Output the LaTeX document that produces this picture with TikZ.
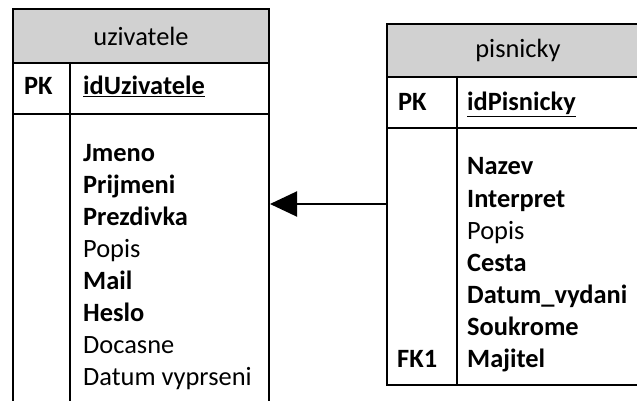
\documentclass[tikz,border=0pt]{standalone}
\usepackage{fontspec}
\setmainfont{Carlito}
\usetikzlibrary{arrows.meta}

\tikzset{
    tablebox/.style={draw=black, line width=2pt, anchor=north west, inner sep=0pt},
    headbox/.style={tablebox, fill=black!18, font=\fontsize{26.4}{32}\selectfont},
    tableline/.style={line width=2pt, black},
    fieldtext/.style={anchor=base west, inner sep=0pt, font=\fontsize{26.4}{32}\selectfont},
    keytext/.style={anchor=base west, inner sep=0pt, font=\fontsize{26.4}{32}\selectfont\bfseries},
}

\begin{document}
\begin{tikzpicture}[x=1pt, y=-1pt]

    % Page of 637 x 401, everything outside is cut away
    \useasboundingbox (0,0) rectangle (637,401);
    \clip (0,0) rectangle (637,401);

    % Table uzivatele (runs on past the bottom edge)
    \node[tablebox, minimum width=256pt, minimum height=420pt] (uzivatele) at (12,8) {};
    \node[headbox, minimum width=256pt, minimum height=54pt] (uzivHead) at (12,8) {uzivatele};

    % Primary key row and key column of uzivatele
    \draw[tableline] (12,114) -- (268,114);
    \draw[tableline] (70,62) -- (70,430);

    \node[keytext] (uPK) at (24,95) {PK};
    \node[keytext] (uId) at (83,95) {\underline{idUzivatele}};

    % Columns of uzivatele
    \node[keytext]   (uJmeno)     at (83,161) {Jmeno};
    \node[keytext]   (uPrijmeni)  at (83,193) {Prijmeni};
    \node[keytext]   (uPrezdivka) at (83,225) {Prezdivka};
    \node[fieldtext] (uPopis)     at (83,257) {Popis};
    \node[keytext]   (uMail)      at (83,289) {Mail};
    \node[keytext]   (uHeslo)     at (83,321) {Heslo};
    \node[fieldtext] (uDocasne)   at (83,353) {Docasne};
    \node[fieldtext] (uDatum)     at (83,385) {Datum vyprseni};

    % Table pisnicky (runs on past the right edge)
    \node[tablebox, minimum width=262pt, minimum height=361pt] (pisnicky) at (386,23) {};
    \node[headbox, minimum width=262pt, minimum height=53pt] (pisnHead) at (386,23) {pisnicky};

    % Primary key row and key column of pisnicky
    \draw[tableline] (386,128) -- (648,128);
    \draw[tableline] (457,76) -- (457,384);

    \node[keytext] (pPK) at (398,111) {PK};
    \node[keytext] (pId) at (467,111) {\underline{idPisnicky}};

    % Columns of pisnicky
    \node[keytext]   (pNazev)     at (467,175) {Nazev};
    \node[keytext]   (pInterpret) at (467,207) {Interpret};
    \node[fieldtext] (pPopis)     at (467,239) {Popis};
    \node[keytext]   (pCesta)     at (467,271) {Cesta};
    \node[keytext]   (pDatum)     at (467,303) {Datum\_vydani};
    \node[keytext]   (pSoukrome)  at (467,335) {Soukrome};
    \node[keytext]   (pFK)        at (397,367) {FK1};
    \node[keytext]   (pMajitel)   at (467,367) {Majitel};

    % Foreign key pisnicky.Majitel -> uzivatele
    \coordinate (relY) at (0,204);
    \draw[tableline, -{Triangle[length=27pt, width=25pt]}] (pisnicky.west |- relY) -- (uzivatele.east |- relY);

\end{tikzpicture}
\end{document}
